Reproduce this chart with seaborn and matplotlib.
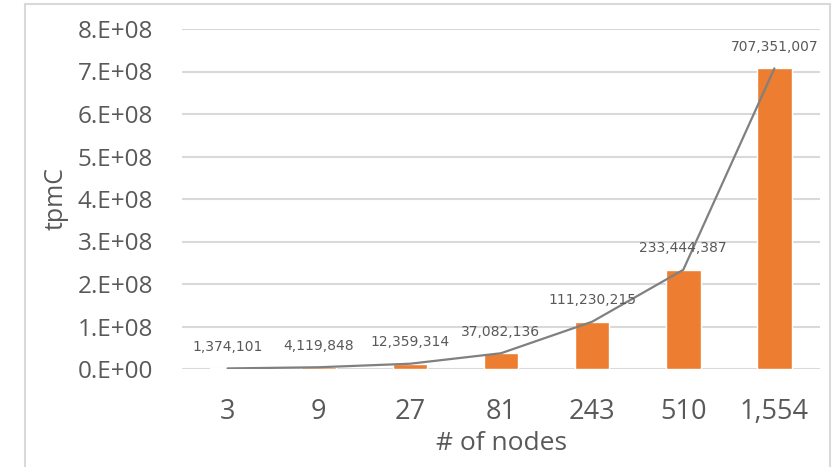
import numpy as np
import pandas as pd
import matplotlib
matplotlib.use("Agg")
import matplotlib.pyplot as plt
from matplotlib.patches import Rectangle
import seaborn as sns

# Throughput (tpmC) measured for each cluster size
nodes = ["3", "9", "27", "81", "243", "510", "1,554"]
tpmc = [1374101, 4119848, 12359314, 37082136, 111230215, 233444387, 707351007]
y_ticks = [0, 1e8, 2e8, 3e8, 4e8, 5e8, 6e8, 7e8, 8e8]
y_tick_labels = ["0.E+00", "1.E+08", "2.E+08", "3.E+08", "4.E+08",
                 "5.E+08", "6.E+08", "7.E+08", "8.E+08"]

sns.set_theme(style="white")
plt.rcParams["font.family"] = ["Open Sans", "DejaVu Sans"]

text_color = "#595959"
bar_color = "#ED7D31"
line_color = "#808080"
grid_color = "#D9D9D9"

df = pd.DataFrame({"nodes": nodes, "tpmC": tpmc})

fig = plt.figure(figsize=(8.36, 4.67), dpi=100)
ax = fig.add_axes([182 / 836, 1 - 369 / 467, 638 / 836, 340 / 467])

sns.barplot(data=df, x="nodes", y="tpmC", order=nodes, color=bar_color,
            width=0.38, saturation=1, ax=ax, zorder=2)
sns.lineplot(x=np.arange(len(nodes)), y=tpmc, color=line_color,
             linewidth=1.6, ax=ax, zorder=3)

for i, v in enumerate(tpmc):
    ax.annotate(f"{v:,}", xy=(i, v), xytext=(0, 15.5), textcoords="offset points",
                ha="center", va="center", fontsize=10, color=text_color,
                family="DejaVu Sans", zorder=4)

ax.set_ylim(0, 8e8)
ax.set_xlim(-0.5, len(nodes) - 0.5)
ax.set_yticks(y_ticks)
ax.set_yticklabels(y_tick_labels)
ax.yaxis.grid(True, color=grid_color, linewidth=1.5, zorder=0)
ax.set_axisbelow(True)
for s in ax.spines.values():
    s.set_visible(False)
ax.tick_params(axis="both", length=0, colors=text_color)
ax.tick_params(axis="y", pad=21, labelsize=17.5)
ax.tick_params(axis="x", pad=21, labelsize=19.5)

ax.set_xlabel("# of nodes", fontsize=19, color=text_color, va="center")
ax.xaxis.set_label_coords(0.5, (369 - 443) / 340)
ax.set_ylabel("tpmC", fontsize=18, color=text_color, va="center")
ax.yaxis.set_label_coords((56 - 182) / 638, (369 - 198) / 340)

# Thin frame around the chart area
fig.patches.append(Rectangle((25 / 836, -0.02), 805 / 836, 1.02 - 4 / 467,
                             transform=fig.transFigure, fill=False,
                             edgecolor="#D9D9D9", linewidth=1.5))

fig.savefig("out.png", dpi=100, facecolor="white")
